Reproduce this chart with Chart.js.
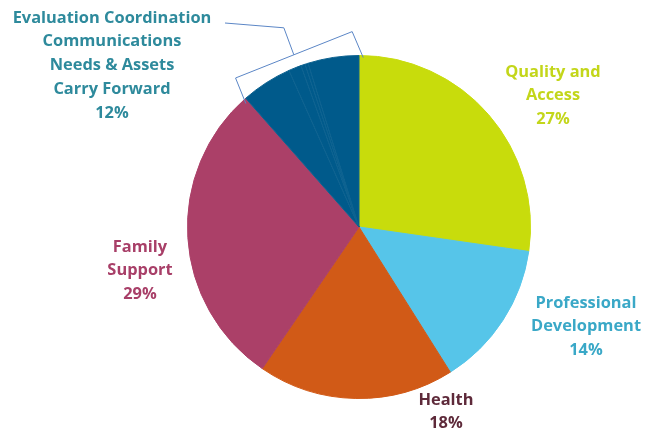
<!DOCTYPE html>
<html>
<head>
<meta charset="utf-8">
<script src="https://cdn.jsdelivr.net/npm/chart.js@4"></script>
<style>
html,body{margin:0;padding:0;background:#fff;}
#wrap{width:661px;height:433px;}
</style>
</head>
<body>
<div id="wrap"><canvas id="c" width="661" height="433"></canvas></div>
<script>
// ---- data ----
const categories = ["Quality and Access","Professional Development","Health","Family Support","Evaluation","Coordination","Communications","Needs & Assets","Carry Forward"];
const values = [27.3, 13.8, 18.5, 29.0, 4.8, 1.2, 0.4, 0.3, 4.8];
const sliceColors = ["#c8dc0c","#56c5e9","#d15a17","#ab4068","#005a8b","#005a8b","#005a8b","#005a8b","#005a8b"];
const sliceBorders = ["#c8dc0c","#56c5e9","#d15a17","#ab4068","#0d6290","#0d6290","#0d6290","#0d6290","#0d6290"];
// label texts (lines) shown on the chart
const labelLines = [
  ["Quality and","Access","27%"],
  ["Professional","Development","14%"],
  ["Health","18%"],
  ["Family","Support","29%"],
  ["Evaluation Coordination","Communications","Needs & Assets","Carry Forward","12%"]
];
const labelColors = ["#c3d61a","#3aa8c7","#5e2a3a","#a83f68","#2e8a9c"];
// label anchor (center x, first-line y) — layout only
const labelPos = [[553,72],[586,303],[446,400],[140,247],[112,18]];
const groupStart = 4; // first index of grouped small slices

const labelPlugin = {
  id:'labels',
  afterDraw(chart){
    const ctx = chart.ctx;
    ctx.save();
    ctx.font = 'bold 16.4px "Open Sans", Lato, sans-serif';
    ctx.textAlign = 'center';
    ctx.textBaseline = 'middle';
    labelLines.forEach((lines,i)=>{
      ctx.fillStyle = labelColors[i];
      lines.forEach((t,j)=>{
        ctx.fillText(t, labelPos[i][0], labelPos[i][1] + j*23.8);
      });
    });
    // bracket + leader for grouped slices
    const meta = chart.getDatasetMeta(0);
    const first = meta.data[groupStart];
    const last = meta.data[meta.data.length-1];
    const cx = first.x, cy = first.y, r = first.outerRadius;
    const a0 = first.startAngle, a1 = last.endAngle;
    const pt = (a,rad)=>[cx+Math.cos(a)*rad, cy+Math.sin(a)*rad];
    const e0 = pt(a0-0.02, r-4), e1 = pt(a1+0.025, r-2);
    const c0 = pt(a0+0.03, r+22), c1 = pt(a1-0.035, r+24);
    const mid = [(c0[0]+c1[0])/2, (c0[1]+c1[1])/2];
    ctx.strokeStyle = '#5b86c6';
    ctx.lineWidth = 1;
    ctx.beginPath();
    ctx.moveTo(e0[0],e0[1]);
    ctx.lineTo(c0[0],c0[1]);
    ctx.lineTo(c1[0],c1[1]);
    ctx.lineTo(e1[0],e1[1]);
    ctx.stroke();
    ctx.beginPath();
    ctx.moveTo(mid[0],mid[1]);
    ctx.lineTo(mid[0]-10, mid[1]-27);
    ctx.lineTo(labelPos[4][0]+113, labelPos[4][1]+5);
    ctx.stroke();
    ctx.restore();
  }
};

new Chart(document.getElementById('c'), {
  type:'pie',
  data:{
    labels: categories,
    datasets:[{
      data: values,
      backgroundColor: sliceColors,
      borderColor: sliceBorders,
      borderWidth: 1
    }]
  },
  options:{
    responsive:false,
    animation:false,
    layout:{padding:{left:187,right:130,top:55,bottom:34}},
    plugins:{legend:{display:false},tooltip:{enabled:false}}
  },
  plugins:[labelPlugin]
});
</script>
</body>
</html>
